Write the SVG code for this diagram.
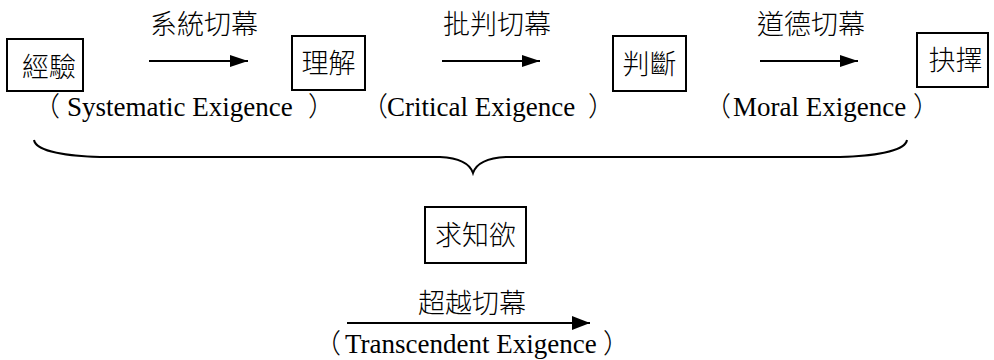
<svg xmlns="http://www.w3.org/2000/svg" width="994" height="360" viewBox="0 0 994 360">
<style>
.box{fill:#fff;stroke:#000;stroke-width:2}
.cjk{font-family:"Noto Sans CJK TC","Noto Sans CJK SC",sans-serif;font-size:27px;font-weight:300;fill:#000;text-anchor:middle}
.en{font-family:"Liberation Serif","Times New Roman",serif;font-size:27px;fill:#000}
.par{font-family:"Noto Sans CJK TC","Noto Sans CJK SC",sans-serif;font-size:27px;font-weight:300;fill:#000}
.ln{stroke:#000;stroke-width:2;fill:none}
</style>
<defs>
<marker id="ah" viewBox="0 0 18 12" refX="18" refY="6" markerWidth="18" markerHeight="12" markerUnits="userSpaceOnUse" orient="auto">
<path d="M0,0 L18,6 L0,12 Z" fill="#000"/>
</marker>
<marker id="ah2" viewBox="0 0 18 14" refX="18" refY="7" markerWidth="18" markerHeight="14" markerUnits="userSpaceOnUse" orient="auto">
<path d="M0,0 L18,7 L0,14 Z" fill="#000"/>
</marker>
</defs>
<rect width="994" height="360" fill="#fff"/>
<g id="n-jingyan">
<rect class="box" x="7" y="39" width="76" height="52"/>
<text class="cjk" x="49" y="77">經驗</text>
</g>
<g id="n-lijie">
<rect class="box" x="292" y="36" width="73" height="54"/>
<text class="cjk" x="328.5" y="73">理解</text>
</g>
<g id="n-panduan">
<rect class="box" x="613" y="36" width="73" height="55"/>
<text class="cjk" x="649.5" y="74">判斷</text>
</g>
<g id="n-jueze">
<rect class="box" x="917" y="33" width="71" height="54"/>
<text class="cjk" x="955.5" y="70">抉擇</text>
</g>
<g id="n-qiuzhiyu">
<rect class="box" x="425" y="207" width="101" height="56"/>
<text class="cjk" x="475.5" y="245">求知欲</text>
</g>
<g id="connectors">
<line class="ln" x1="149" y1="61" x2="248" y2="61" marker-end="url(#ah)"/>
<line class="ln" x1="442" y1="61" x2="540" y2="61" marker-end="url(#ah)"/>
<line class="ln" x1="760" y1="61" x2="858" y2="61" marker-end="url(#ah)"/>
<line class="ln" x1="347" y1="323" x2="590" y2="323" marker-end="url(#ah2)"/>
<path class="ln" d="M34,140 C36,152 70,156 100,157 L440,157 C460,158 470,164 473,173 C476,164 486,158 506,157 L840,157 C870,156 905,152 907,140"/>
</g>
<g id="labels">
<text class="cjk" x="204" y="34">系統切幕</text>
<text class="cjk" x="497" y="34">批判切幕</text>
<text class="cjk" x="811" y="34">道德切幕</text>
<text class="cjk" x="472" y="313">超越切幕</text>
<text class="par" x="60" y="116" text-anchor="end">（</text>
<text class="en" x="67" y="116">Systematic Exigence</text>
<text class="par" x="308" y="116">）</text>
<text class="par" x="388" y="116" text-anchor="end">（</text>
<text class="en" x="387" y="116">Critical Exigence</text>
<text class="par" x="588" y="116">）</text>
<text class="par" x="731" y="116" text-anchor="end">（</text>
<text class="en" x="733" y="116">Moral Exigence</text>
<text class="par" x="913" y="116">）</text>
<text class="par" x="341" y="353" text-anchor="end">（</text>
<text class="en" x="345" y="353">Transcendent Exigence</text>
<text class="par" x="603" y="353">）</text>
</g>
</svg>
